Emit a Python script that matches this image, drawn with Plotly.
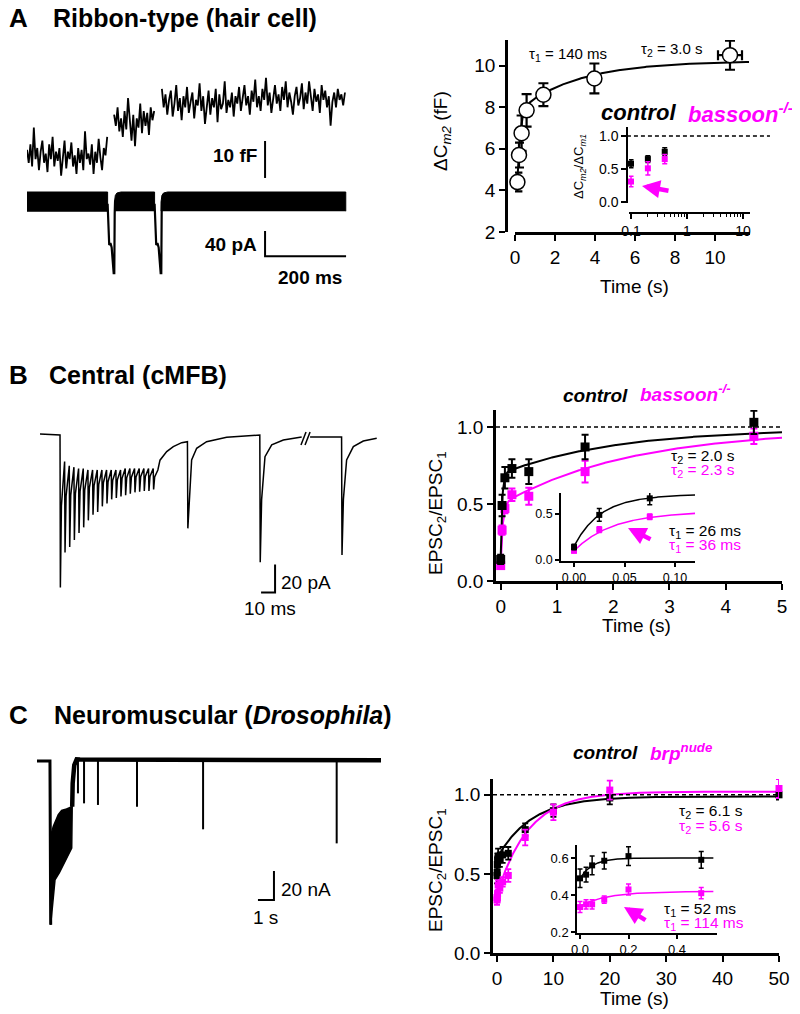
import numpy as np
import plotly.graph_objects as go

# page pixel frame of the reference (the html body adds an 8px offset)
W, H = 800, 1014
OX, OY = 8, 8
FW, FH = W - OX, H - OY
FONT = "Liberation Sans, Arial, Helvetica, sans-serif"
MAG = "#FF00FF"

# ================= DATA =================
# ---- Panel A, right: Delta Cm2 recovery (hair cell) ----
A_T_S = [0.12, 0.2, 0.33, 0.58, 1.42, 3.97, 10.75]
A_DCM2_FF = [4.4, 5.7, 6.75, 7.85, 8.6, 9.38, 10.5]
A_DCM2_ERR = [0.45, 0.6, 0.85, 0.78, 0.55, 0.72, 0.7]
A_T_ERR = [0, 0, 0, 0, 0, 0, 0.6]
A_TAU_S = [0.140, 3.0]
A_FIT = [10.22, 7.82, 2.5]          # plateau, fast amplitude, slow amplitude
A_XTICKS = [0, 2, 4, 6, 8, 10]
A_YTICKS = [2, 4, 6, 8, 10]

# ---- Panel A inset: dCm2/dCm1 ----
A_IN_CTRL_T = [0.1, 0.2, 0.4]
A_IN_CTRL = [0.58, 0.65, 0.76]
A_IN_CTRL_ERR = [0.06, 0.05, 0.06]
A_IN_BSN_T = [0.1, 0.2, 0.4, 28.0]
A_IN_BSN = [0.31, 0.51, 0.65, 1.08]
A_IN_BSN_ERR = [0.08, 0.1, 0.07, 0.04]
A_IN_XTICKS = [0.1, 1, 10]
A_IN_XTICKTEXT = ["0.1", "1", "10"]
A_IN_XMINOR = [0.2, 0.3, 0.4, 0.5, 0.6, 0.7, 0.8, 0.9, 2, 3, 4, 5, 6, 7, 8, 9]
A_IN_YTICKS = [0.0, 0.5, 1.0]

# ---- Panel B, right: EPSC2/EPSC1 (cMFB) ----
B_T = [0, 0.025, 0.075, 0.2, 0.5, 1.5, 4.5]
B_CTRL = [0.14, 0.49, 0.67, 0.73, 0.71, 0.87, 1.03]
B_CTRL_ERR = [0.03, 0.07, 0.07, 0.06, 0.08, 0.08, 0.075]
B_BSN = [0.10, 0.33, 0.47, 0.56, 0.55, 0.71, 0.94]
B_BSN_ERR = [0.02, 0.03, 0.03, 0.04, 0.055, 0.07, 0.05]
B_CTRL_TAU = [0.026, 2.0]
B_CTRL_FIT = [0.989, 0.544, 0.295]
B_BSN_TAU = [0.036, 2.3]
B_BSN_FIT = [0.986, 0.396, 0.49]
B_XTICKS = [0, 1, 2, 3, 4, 5]
B_YTICKS = [0.0, 0.5, 1.0]
B_IN_XTICKS = [0.0, 0.05, 0.10]
B_IN_YTICKS = [0.0, 0.5]

# ---- Panel C, right: EPSC2/EPSC1 (Drosophila NMJ) ----
C_T = [0, 0.025, 0.05, 0.1, 0.2, 0.5, 1, 2, 5, 10, 20, 50]
C_CTRL = [0.49, 0.51, 0.56, 0.585, 0.61, 0.59, 0.62, 0.63, 0.78, 0.90, 0.98, 1.0]
C_CTRL_ERR = [0.05, 0.04, 0.05, 0.045, 0.05, 0.045, 0.05, 0.04, 0.04, 0.04, 0.04, 0.03]
C_BRP = [0.335, 0.35, 0.35, 0.375, 0.43, 0.41, 0.45, 0.49, 0.73, 0.89, 1.03, 1.04]
C_BRP_ERR = [0.03, 0.025, 0.025, 0.02, 0.03, 0.03, 0.03, 0.04, 0.05, 0.05, 0.06, 0.06]
C_CTRL_TAU = [0.052, 6.1]
C_CTRL_FIT = [0.99, 0.11, 0.39]
C_BRP_TAU = [0.114, 5.6]
C_BRP_FIT = [1.02, 0.03, 0.65]
C_IN_CTRL_FIT = [0.60, 0.11]       # plateau, amplitude (fast component)
C_IN_BRP_FIT = [0.42, 0.08]
C_XTICKS = [0, 10, 20, 30, 40, 50]
C_YTICKS = [0.0, 0.5, 1.0]
C_IN_XTICKS = [0.0, 0.2, 0.4]
C_IN_YTICKS = [0.2, 0.4, 0.6]

# ---- Panel A, left: capacitance trace (ms, fF) ----
A_CAP_SEG_MS = [(0, 198), (215, 314), (333, 785)]
A_CAP_SEG1 = [9.5, 6, 11, 5, 15.5, 7, 10, 4, 9, 12, 6, 8.5, 3.5, 11, 7, 13, 5, 9, 6.5, 10,
              2.5, 8, 12, 4.5, 9, 7, 11.5, 5, 8, 3, 10, 6, 9.5, 4, 14.5, 7, 8.5, 5.5, 11, 3,
              9, 6, 12.5, 7.5, 4, 10, 8, 13]
A_CAP_SEG2 = [19, 16, 21, 14.5, 18, 13, 20, 15, 23.5, 17, 12, 19, 10.5, 18, 15.5, 22, 14, 20,
              16, 19.5, 13.5, 21, 17.5, 20]
A_CAP_SEG3 = [26, 21, 24.5, 19, 23, 25.5, 18.5, 22, 27, 20, 23.5, 17.5, 24, 21, 26.5, 19.5,
              22.5, 25, 18, 23, 21.5, 27.5, 20, 24, 16.5, 22, 25.5, 19, 23.5, 21, 26, 17, 24.5,
              20.5, 22, 28, 19.5, 23, 21, 25, 18.5, 24, 22, 26.5, 20, 23.5, 27, 21.5, 24, 19,
              25.5, 22.5, 28.5, 21, 24, 20, 26, 23, 29, 21.5, 25, 19.5, 23.5, 27, 22, 24.5, 20,
              26.5, 23, 28, 21, 25, 22.5, 19, 24, 26.5, 21.5, 23.5, 27.5, 20.5, 25, 22, 28,
              23.5, 20, 26, 22.5, 24.5, 19.5, 27, 23, 25.5, 21, 24, 16, 22.5, 25, 21, 26, 23,
              24.5, 21.5, 25]

# ---- Panel A, left: current trace (ms, pA) ----
A_I_BAND_TOP = -6.4
A_I_BAND_BOTTOM = -37
A_I_BAND_SEG_MS = [(0, 199), (216, 315), (331, 787)]
A_I_RECOVERY_DT = [0, 0, 2, 6, 16]
A_I_RECOVERY_PA = [-37, -22, -12, -8, -6.4]
A_I_DIP_START_MS = [199, 315]
A_I_DIP_DT = [0, 2, 4, 7, 10, 15, 16.5, 17.5, 18.5]
A_I_DIP_PA = [-25, -85, -91, -88, -95, -136, -136, -40, -20]

# ---- scale bars ----
A_BAR_X_MS = 587.7
A_BAR_FF0 = 1.9
A_SCALE_FF = 10
A_BAR_PA0 = -108.8
A_SCALE_PA = 40
A_SCALE_MS = 200

# ---- Panel B, left: EPSC train (ms, pA) ----
B_PRE_T = [0.0, 6.0, 14.3]
B_PRE_PA = [0.7, 0.3, 0.0]
B_TRAIN_START_MS = 14.3
B_TRAIN_INTERVAL_MS = 3.33
B_TRAIN_TROUGH_PA = [-109, -84, -80, -75, -70, -66, -61, -57, -55, -51, -49, -46, -45, -44,
                     -43, -42, -41, -40.5, -40, -40, -39]
B_TRAIN_REST_PA = [-19, -22, -23, -24, -24, -25, -25, -25, -25, -25, -25, -25, -25, -24, -24,
                   -24, -24, -24, -24, -24, -25]
B_POST_T = [85.7, 90.5, 95.2, 101.2, 105.3, 105.6, 106.6, 108.3, 111.9, 119.0, 133.3, 154.8,
            157.0, 157.3, 158.3, 160.7, 165.5, 173.8, 185.7, 186.9]
B_POST_PA = [-18, -11.9, -8.3, -5.5, -4.8, -66.7, -46, -17.9, -9.5, -4.8, -1.7, 0, 0, -91,
             -46, -15.5, -7.1, -3.6, -1.7, -1.5]
B_RESUME_T = [192.9, 215.4, 215.7, 216.7, 219.0, 223.8, 230.9, 240.5]
B_RESUME_PA = [-1.4, -1.4, -85.7, -46, -17.9, -8.3, -4.3, -2.4]
B_BREAK_T = [[186.4, 190.0], [189.3, 192.9]]
B_BREAK_PA = [[-7.1, 2.1], [-7.1, 2.1]]
B_BAR_X_MS = 167.9
B_BAR_PA0 = -112.6
B_SCALE_PA = 20
B_SCALE_MS = 10

# ---- Panel C, left: NMJ train (s, nA) ----
C_PRE_T = [0.0, 0.81, 0.855]
C_PRE_NA = [0.0, 0.0, -113]
C_BURST_LOW_T = [0.855, 0.98, 1.125, 1.4, 1.65, 1.9, 2.17, 2.2]
C_BURST_LOW_NA = [-113, -96, -82, -77, -72, -66, -60, -31.5]
C_BURST_UP_T = [2.17, 1.85, 1.54, 1.33, 1.02, 0.84]
C_BURST_UP_NA = [-31.5, -33, -34, -37, -45, -52]
C_RISE_T = [2.2, 2.23, 2.33, 2.48, 2.69, 21.5]
C_RISE_NA = [-31.5, -15.4, -2.8, 1.1, 1.0, 0.5]
C_SPIKE_T = [2.56, 2.94, 3.81, 6.25, 10.38, 18.73]
C_SPIKE_NA = [-22.3, -29.2, -30.3, -31.5, -47.1, -56.8]
C_BAR_X_S = 14.81
C_BAR_NA0 = -95.9
C_SCALE_NA = 20
C_SCALE_S = 1


# ================= HELPERS =================
def pxx(x):
    return (x - OX) / FW


def pxy(y):
    return 1 - (y - OY) / FH


def dx(a, b):
    return [pxx(a), pxx(b)]


def dy(top, bottom):
    return [pxy(bottom), pxy(top)]


def vis_axis(domain, rng, lw=2.5, tl=6, tw=2, fs=19, **kw):
    d = dict(domain=domain, range=rng, showgrid=False, zeroline=False, showline=True,
             linecolor="black", linewidth=lw, ticks="outside", ticklen=tl, tickwidth=tw,
             tickcolor="black", tickfont=dict(family=FONT, size=fs, color="black"),
             fixedrange=True, automargin=False)
    d.update(kw)
    return d


def hid_axis(domain, rng, **kw):
    d = dict(domain=domain, range=rng, visible=False, fixedrange=True, automargin=False)
    d.update(kw)
    return d


def dexp(t, p, tau):
    return p[0] - p[1] * np.exp(-t / tau[0]) - p[2] * np.exp(-t / tau[1])


fig = go.Figure()


def line(x, y, ax, color="black", width=2, dash=None, fill=None):
    fig.add_trace(go.Scatter(x=x, y=y, xaxis="x" + ax, yaxis="y" + ax, mode="lines",
                             line=dict(color=color, width=width, dash=dash),
                             fill=fill, fillcolor=color if fill else None,
                             hoverinfo="skip"))


def pts(x, y, err, ax, color, size, symbol="square", thick=2, cap=4, errx=None,
        fillc=None, lw=0):
    fig.add_trace(go.Scatter(
        x=x, y=y, xaxis="x" + ax, yaxis="y" + ax, mode="markers", cliponaxis=False,
        marker=dict(symbol=symbol, size=size, color=fillc or color,
                    line=dict(color=color, width=lw)),
        error_y=dict(type="data", array=err, visible=True, color=color,
                     thickness=thick, width=cap),
        error_x=(dict(type="data", array=errx, visible=True, color=color,
                      thickness=thick, width=cap) if errx else None),
        hoverinfo="skip"))


# ================= PANEL A RIGHT =================
tA = np.linspace(A_T_S[0], 11.7, 500)
line(tA, dexp(tA, A_FIT, A_TAU_S), "", width=2)
pts(A_T_S, A_DCM2_FF, A_DCM2_ERR, "", "black", 15, symbol="circle", thick=2.2, cap=5,
    errx=A_T_ERR, fillc="white", lw=1.5)

# inset A
pts(A_IN_CTRL_T, A_IN_CTRL, A_IN_CTRL_ERR, "2", "black", 6, thick=1.5, cap=2.5)
pts(A_IN_BSN_T, A_IN_BSN, A_IN_BSN_ERR, "2", MAG, 6, thick=1.5, cap=2.5)

# ================= PANEL B RIGHT =================
tB = np.linspace(0, 5, 600)
line(tB, dexp(tB, B_BSN_FIT, B_BSN_TAU), "3", MAG, 2)
line(tB, dexp(tB, B_CTRL_FIT, B_CTRL_TAU), "3", "black", 2)
pts(B_T, B_BSN, B_BSN_ERR, "3", MAG, 9, thick=2, cap=3.5)
pts(B_T, B_CTRL, B_CTRL_ERR, "3", "black", 9, thick=2, cap=3.5)

tBi = np.linspace(0, 0.12, 300)
line(tBi, dexp(tBi, B_BSN_FIT, B_BSN_TAU), "4", MAG, 1.5)
line(tBi, dexp(tBi, B_CTRL_FIT, B_CTRL_TAU), "4", "black", 1.5)
nB = 3
pts(B_T[:nB], B_BSN[:nB], B_BSN_ERR[:nB], "4", MAG, 6, thick=1.5, cap=2.5)
pts(B_T[:nB], B_CTRL[:nB], B_CTRL_ERR[:nB], "4", "black", 6, thick=1.5, cap=2.5)

# ================= PANEL C RIGHT =================
tC = np.linspace(0, 50, 800)
line(tC, dexp(tC, C_CTRL_FIT, C_CTRL_TAU), "5", "black", 2)
line(tC, dexp(tC, C_BRP_FIT, C_BRP_TAU), "5", MAG, 2)
pts(C_T, C_CTRL, C_CTRL_ERR, "5", "black", 7, thick=1.8, cap=3)
pts(C_T, C_BRP, C_BRP_ERR, "5", MAG, 7, thick=1.8, cap=3)

tCi = np.linspace(0, 0.55, 300)
line(tCi, C_IN_CTRL_FIT[0] - C_IN_CTRL_FIT[1] * np.exp(-tCi / C_CTRL_TAU[0]), "6", "black", 1.5)
line(tCi, C_IN_BRP_FIT[0] - C_IN_BRP_FIT[1] * np.exp(-tCi / C_BRP_TAU[0]), "6", MAG, 1.5)
nC = 6
pts(C_T[:nC], C_CTRL[:nC], C_CTRL_ERR[:nC], "6", "black", 6, thick=1.5, cap=2.5)
pts(C_T[:nC], C_BRP[:nC], C_BRP_ERR[:nC], "6", MAG, 6, thick=1.5, cap=2.5)

# ================= PANEL A LEFT TRACES =================
for (t0, t1), vals in zip(A_CAP_SEG_MS, [A_CAP_SEG1, A_CAP_SEG2, A_CAP_SEG3]):
    line(np.linspace(t0, t1, len(vals)), vals, "7", "black", 1.8)
line([A_BAR_X_MS, A_BAR_X_MS], [A_BAR_FF0, A_BAR_FF0 + A_SCALE_FF], "7", "black", 2)

for i, (t0, t1) in enumerate(A_I_BAND_SEG_MS):
    if i == 0:
        xs = [t0, t1, t1, t0]
        ys = [A_I_BAND_TOP, A_I_BAND_TOP, A_I_BAND_BOTTOM, A_I_BAND_BOTTOM]
    else:
        xs = [t0 + d for d in A_I_RECOVERY_DT] + [t1, t1]
        ys = list(A_I_RECOVERY_PA) + [A_I_BAND_TOP, A_I_BAND_BOTTOM]
    line(xs, ys, "8", "black", 1, fill="toself")
for ts in A_I_DIP_START_MS:
    line([ts + d for d in A_I_DIP_DT], A_I_DIP_PA, "8", "black", 2.2)
line([A_BAR_X_MS, A_BAR_X_MS, A_BAR_X_MS + A_SCALE_MS],
     [A_BAR_PA0 + A_SCALE_PA, A_BAR_PA0, A_BAR_PA0], "8", "black", 2)

# ================= PANEL B LEFT TRACE =================
bt, bi = list(B_PRE_T), list(B_PRE_PA)
for k, (tr, rest) in enumerate(zip(B_TRAIN_TROUGH_PA, B_TRAIN_REST_PA)):
    tk = B_TRAIN_START_MS + k * B_TRAIN_INTERVAL_MS
    bt += [tk + 0.25, tk + 1.0, tk + B_TRAIN_INTERVAL_MS - 0.05]
    bi += [tr, rest + 0.35 * (tr - rest), rest]
bt += B_POST_T
bi += B_POST_PA
line(bt, bi, "9", "black", 1.5)
line(B_RESUME_T, B_RESUME_PA, "9", "black", 1.5)
for xs, ys in zip(B_BREAK_T, B_BREAK_PA):
    line(xs, ys, "9", "black", 1.5)
line([B_BAR_X_MS - B_SCALE_MS, B_BAR_X_MS, B_BAR_X_MS],
     [B_BAR_PA0, B_BAR_PA0, B_BAR_PA0 + B_SCALE_PA], "9", "black", 2)

# ================= PANEL C LEFT TRACE =================
line(C_PRE_T, C_PRE_NA, "10", "black", 3)
line(C_BURST_LOW_T + C_BURST_UP_T, C_BURST_LOW_NA + C_BURST_UP_NA, "10", "black", 1.5,
     fill="toself")
line(C_RISE_T, C_RISE_NA, "10", "black", 4.5)
sx, sy = [], []
for t, a in zip(C_SPIKE_T, C_SPIKE_NA):
    sx += [t, t, None]
    sy += [0.5, a, None]
line(sx, sy, "10", "black", 2)
line([C_BAR_X_S - C_SCALE_S, C_BAR_X_S, C_BAR_X_S],
     [C_BAR_NA0, C_BAR_NA0, C_BAR_NA0 + C_SCALE_NA], "10", "black", 2)

# ================= ANNOTATIONS =================
ann = []


def T(x, y, text, size=15, color="black", xa="left", angle=0):
    ann.append(dict(x=pxx(x), y=pxy(y), xref="paper", yref="paper", text=text,
                    showarrow=False, xanchor=xa, yanchor="middle", textangle=angle,
                    borderpad=0, font=dict(family=FONT, size=size, color=color)))


def ARROW(xt, yt, xtail, ytail):
    ann.append(dict(x=pxx(xt), y=pxy(yt), xref="paper", yref="paper", text="",
                    showarrow=True, ax=xtail - xt, ay=ytail - yt, arrowhead=2,
                    arrowsize=0.8, arrowwidth=4.5, arrowcolor=MAG))


# Panel A
T(8, 18, "<b>A</b>", 26)
T(52, 18, "<b>Ribbon-type (hair cell)</b>", 25)
T(528, 55, "τ<sub>1</sub> = 140 ms", 15)
T(640, 50, "τ<sub>2</sub> = 3.0 s", 15)
T(600, 113, "<b><i>control</i></b>", 22)
T(687, 113, "<b><i>bassoon<sup>-/-</sup></i></b>", 22, MAG)
T(442, 131, "ΔC<sub><i>m2</i></sub> (fF)", 19, xa="center", angle=-90)
T(634, 286, "Time (s)", 19, xa="center")
T(580, 167, "ΔC<sub><i>m2</i></sub>/ΔC<sub><i>m1</i></sub>", 13, xa="center", angle=-90)
T(258, 155, "<b>10 fF</b>", 19, xa="right")
T(258, 244, "<b>40 pA</b>", 19, xa="right")
T(343, 277, "<b>200 ms</b>", 19, xa="right")
ARROW(642, 186, 670, 191)

# Panel B
T(8, 375, "<b>B</b>", 26)
T(48, 375, "<b>Central (cMFB)</b>", 25)
T(562, 395, "<b><i>control</i></b>", 19)
T(639, 393, "<b><i>bassoon<sup>-/-</sup></i></b>", 19, MAG)
T(670, 456, "τ<sub>2</sub> = 2.0 s", 15.5)
T(670, 471, "τ<sub>2</sub> = 2.3 s", 15.5, MAG)
T(668, 531, "τ<sub>1</sub> = 26 ms", 15.5)
T(668, 545, "τ<sub>1</sub> = 36 ms", 15.5, MAG)
T(437, 513, "EPSC<sub>2</sub>/EPSC<sub>1</sub>", 19, xa="center", angle=-90)
T(636, 625, "Time (s)", 19, xa="center")
T(280, 582, "20 pA", 19)
T(270, 608, "10 ms", 19, xa="center")
ARROW(628, 528, 652, 540)

# Panel C
T(8, 715, "<b>C</b>", 26)
T(53, 715, "<b>Neuromuscular (<i>Drosophila</i>)</b>", 25)
T(572, 752, "<b><i>control</i></b>", 19)
T(649, 752, "<b><i>brp<sup>nude</sup></i></b>", 19, MAG)
T(678, 811, "τ<sub>2</sub> = 6.1 s", 15.5)
T(678, 826, "τ<sub>2</sub> = 5.6 s", 15.5, MAG)
T(663, 909, "τ<sub>1</sub> = 52 ms", 15.5)
T(663, 923, "τ<sub>1</sub> = 114 ms", 15.5, MAG)
T(437, 870, "EPSC<sub>2</sub>/EPSC<sub>1</sub>", 19, xa="center", angle=-90)
T(634, 998, "Time (s)", 19, xa="center")
T(280, 889, "20 nA", 19)
T(265, 917, "1 s", 19, xa="center")
ARROW(624, 907, 647, 921)

# dashed unity lines
shapes = [
    dict(type="line", xref="x2 domain", yref="y2", x0=-0.017, x1=1.165, y0=1, y1=1,
         line=dict(color="black", width=1.5, dash="4px,3px")),
    dict(type="line", xref="x3 domain", yref="y3", x0=0, x1=1, y0=1, y1=1,
         line=dict(color="black", width=1.5, dash="4px,3px")),
    dict(type="line", xref="x5 domain", yref="y5", x0=0, x1=1, y0=1, y1=1,
         line=dict(color="black", width=1.5, dash="4px,3px")),
]

fig.update_layout(
    width=FW, height=FH, autosize=False, margin=dict(l=0, r=0, t=0, b=0, pad=0),
    paper_bgcolor="white", plot_bgcolor="rgba(0,0,0,0)", showlegend=False,
    annotations=ann, shapes=shapes,
    # A main
    xaxis=vis_axis(dx(515, 750), [0, 11.75], anchor="y", tickvals=A_XTICKS),
    yaxis=vis_axis(dy(40, 232), [2, 11.23], anchor="free", position=pxx(506),
                   tickvals=A_YTICKS),
    # A inset (log x)
    xaxis2=vis_axis(dx(629, 750), [-1.036, 1.125], type="log", anchor="free",
                    position=pxy(213), tickvals=A_IN_XTICKS, ticktext=A_IN_XTICKTEXT,
                    lw=1.5, tl=5, tw=1.5, fs=14,
                    minor=dict(tickvals=A_IN_XMINOR, ticks="outside", ticklen=3,
                               tickwidth=1, tickcolor="black", showgrid=False)),
    yaxis2=vis_axis(dy(127, 203), [-0.015, 1.136], anchor="free", position=pxx(627),
                    tickvals=A_IN_YTICKS, tickformat=".1f", lw=1.5, tl=5, tw=1.5, fs=14),
    # B main
    xaxis3=vis_axis(dx(496, 782), [-0.083, 5], anchor="y3", tickvals=B_XTICKS),
    yaxis3=vis_axis(dy(410, 581), [0, 1.11], anchor="x3", tickvals=B_YTICKS,
                    tickformat=".1f"),
    # B inset
    xaxis4=vis_axis(dx(561, 695), [-0.0129, 0.1198], anchor="y4", tickvals=B_IN_XTICKS,
                    tickformat=".2f", lw=1.5, tl=4, tw=1.5, fs=12.5),
    yaxis4=vis_axis(dy(493, 561), [-0.011, 0.728], anchor="x4", tickvals=B_IN_YTICKS,
                    tickformat=".1f", lw=1.5, tl=4, tw=1.5, fs=12.5),
    # C main
    xaxis5=vis_axis(dx(493, 779), [-0.71, 50], anchor="y5", tickvals=C_XTICKS),
    yaxis5=vis_axis(dy(779, 953), [0, 1.10], anchor="x5", tickvals=C_YTICKS,
                    tickformat=".1f"),
    # C inset
    xaxis6=vis_axis(dx(577, 717), [-0.0124, 0.565], anchor="y6", tickvals=C_IN_XTICKS,
                    tickformat=".1f", lw=1.5, tl=4, tw=1.5, fs=13),
    yaxis6=vis_axis(dy(845, 933), [0.195, 0.67], anchor="x6", tickvals=C_IN_YTICKS,
                    tickformat=".1f", lw=1.5, tl=4, tw=1.5, fs=13),
    # traces (hidden axes)
    xaxis7=hid_axis(dx(27, 347), [0, 790], anchor="y7"),
    yaxis7=hid_axis(dy(70, 185), [0, 31.08], anchor="x7"),
    xaxis8=hid_axis(dx(27, 347), [0, 790], anchor="y8"),
    yaxis8=hid_axis(dy(188, 282), [-150, 0], anchor="x8"),
    xaxis9=hid_axis(dx(40, 377), [0, 240.7], anchor="y9"),
    yaxis9=hid_axis(dy(420, 600), [-117.9, 10.7], anchor="x9"),
    xaxis10=hid_axis(dx(37, 381), [0, 21.5], anchor="y10"),
    yaxis10=hid_axis(dy(750, 935), [-120, 7.6], anchor="x10"),
)

fig.write_html("out.html")
